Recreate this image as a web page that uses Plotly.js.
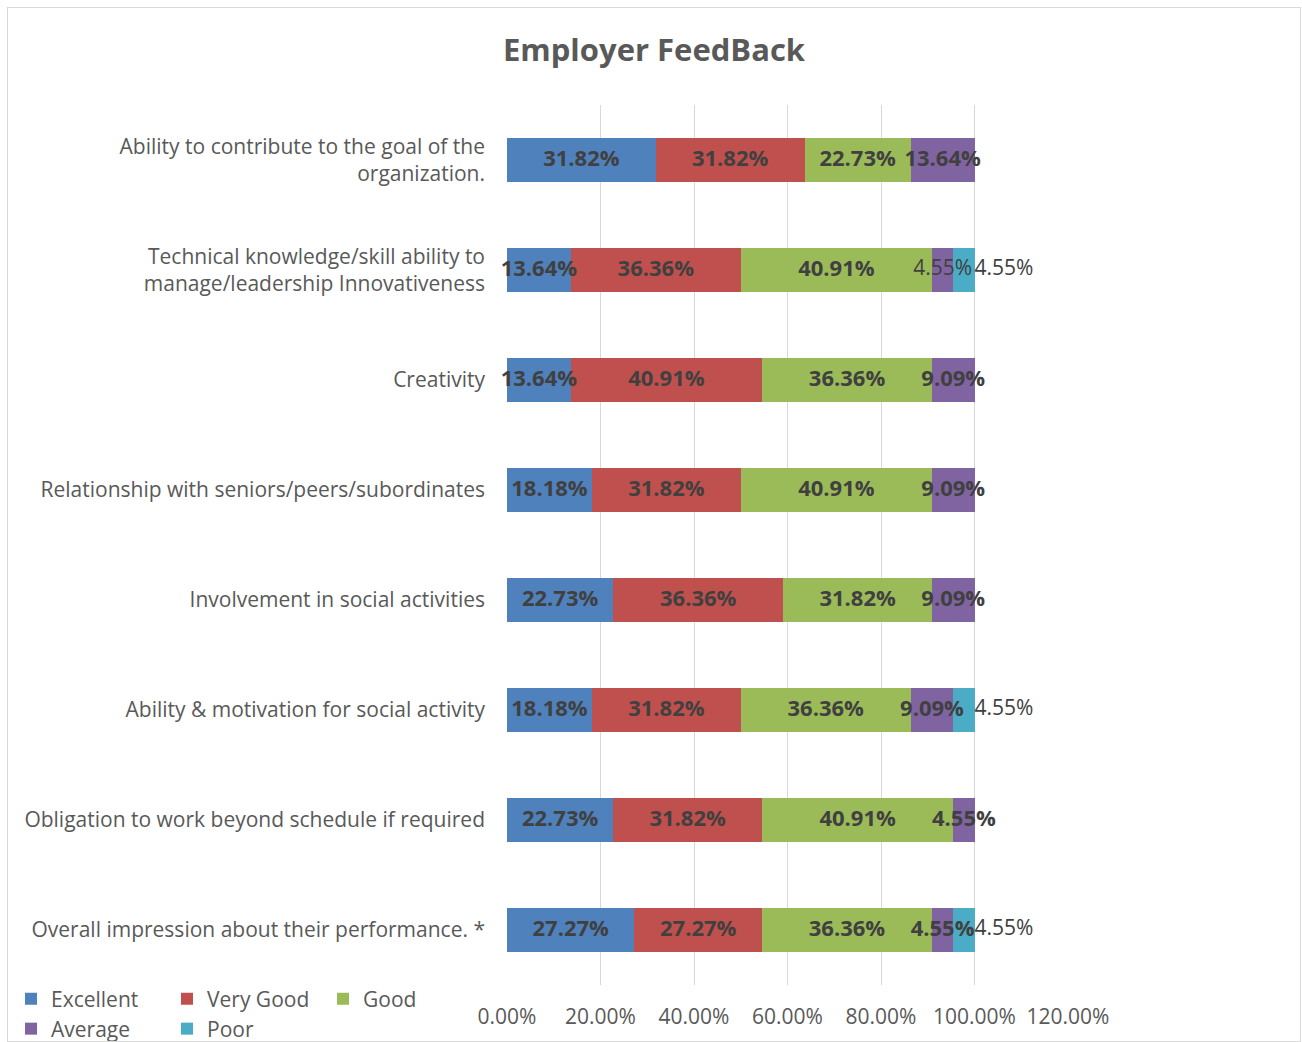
<!DOCTYPE html>
<html>
<head>
<meta charset="utf-8">
<script src="https://cdn.plot.ly/plotly-3.0.1.min.js"></script>
<style>
  html, body { margin: 0; padding: 0; background: #fff; }
  #chart { position: absolute; left: 0; top: 0; width: 1302px; height: 1042px; }
  #frame { position: absolute; left: 7px; top: 7px; width: 1292px; height: 1033px; border: 1px solid #d9d9d9; pointer-events: none; }
</style>
</head>
<body>
<div id="chart"></div>
<div id="frame"></div>
<script>
const categories = [
  "Ability to contribute to the goal of the<br>organization.",
  "Technical knowledge/skill ability to<br>manage/leadership Innovativeness",
  "Creativity",
  "Relationship with seniors/peers/subordinates",
  "Involvement in social activities",
  "Ability & motivation for social activity",
  "Obligation to work beyond schedule if required",
  "Overall impression about their performance. *"
];
const seriesNames = ["Excellent", "Very Good", "Good", "Average", "Poor"];
const excellent = [31.82, 13.64, 13.64, 18.18, 22.73, 18.18, 22.73, 27.27];
const veryGood  = [31.82, 36.36, 40.91, 31.82, 36.36, 31.82, 31.82, 27.27];
const good      = [22.73, 40.91, 36.36, 40.91, 31.82, 36.36, 40.91, 36.36];
const average   = [13.64, 4.55, 9.09, 9.09, 9.09, 9.09, 4.55, 4.55];
const poor      = [0, 4.55, 0, 0, 0, 4.55, 0, 4.55];
// labels drawn in regular (not bold) weight: [seriesIndex, categoryIndex]
const regularLabels = [[3, 1]];
const xTickVals = [0, 20, 40, 60, 80, 100, 120];

const colors = ["#4F81BD", "#C0504D", "#9BBB59", "#8064A2", "#4BACC6"];
const FONT = "Open Sans, Noto Sans, sans-serif";
const labelColor = "#404040";
const seriesValues = [excellent, veryGood, good, average, poor];

const traces = seriesValues.map((vals, i) => ({
  type: "bar",
  orientation: "h",
  name: seriesNames[i],
  y: categories,
  x: vals,
  marker: { color: colors[i], line: { width: 0 } },
  width: 0.4,
  hoverinfo: "skip",
  legend: i < 3 ? "legend" : "legend2"
}));

// data labels, drawn on top of all bars
const bold = { x: [], y: [], text: [], pos: [] };
const regular = { x: [], y: [], text: [], pos: [] };
categories.forEach((cat, j) => {
  let base = 0;
  seriesValues.forEach((vals, i) => {
    const v = vals[j];
    if (v > 0) {
      const isPoor = i === seriesValues.length - 1;
      const isReg = isPoor || regularLabels.some(p => p[0] === i && p[1] === j);
      const tgt = isReg ? regular : bold;
      tgt.x.push(isPoor ? base + v : base + v / 2);
      tgt.y.push(cat);
      tgt.text.push(v.toFixed(2) + "%");
      tgt.pos.push(isPoor ? "middle right" : "middle center");
    }
    base += v;
  });
});

[[bold, "bold", 22], [regular, "normal", 21]].forEach(([d, w, s]) => {
  traces.push({
    type: "scatter",
    mode: "text",
    x: d.x, y: d.y, text: d.text,
    textposition: d.pos,
    textfont: { family: FONT, size: s, color: labelColor, weight: w },
    cliponaxis: false,
    showlegend: false,
    hoverinfo: "skip"
  });
});

const legendCommon = {
  orientation: "h",
  xanchor: "left",
  yanchor: "middle",
  entrywidth: 111, entrywidthmode: "pixels",
  itemwidth: 30,
  font: { family: FONT, size: 21, color: "#595959" },
  bgcolor: "rgba(0,0,0,0)",
  traceorder: "normal"
};

const layout = {
  width: 1302,
  height: 1042,
  barmode: "stack",
  paper_bgcolor: "#ffffff",
  plot_bgcolor: "#ffffff",
  margin: { l: 507, r: 234, t: 105, b: 57, autoexpand: false },
  title: {
    text: "Employer FeedBack",
    font: { family: FONT, size: 31, color: "#595959", weight: "bold" },
    x: 654 / 1302, xref: "container", xanchor: "center",
    y: 1 - 50 / 1042, yref: "container", yanchor: "middle"
  },
  xaxis: {
    range: [0, 120],
    tickvals: xTickVals,
    ticktext: xTickVals.map(v => v.toFixed(2) + "%"),
    showgrid: true,
    gridcolor: "#d9d9d9",
    gridwidth: 1,
    zeroline: false,
    showline: false,
    ticks: "",
    ticklabelstandoff: 17,
    tickfont: { family: FONT, size: 21, color: "#595959" },
    fixedrange: true
  },
  yaxis: {
    type: "category",
    autorange: "reversed",
    showgrid: false,
    zeroline: false,
    showline: false,
    ticks: "",
    ticklabelstandoff: 21,
    tickfont: { family: FONT, size: 21, color: "#595959" },
    fixedrange: true
  },
  showlegend: true,
  legend: Object.assign({}, legendCommon, {
    x: (11 - 507) / 561,
    y: -(999 - 985) / 880
  }),
  legend2: Object.assign({}, legendCommon, {
    x: (11 - 507) / 561,
    y: -(1029 - 985) / 880
  })
};

Plotly.newPlot("chart", traces, layout, { displayModeBar: false, staticPlot: true });
</script>
</body>
</html>
